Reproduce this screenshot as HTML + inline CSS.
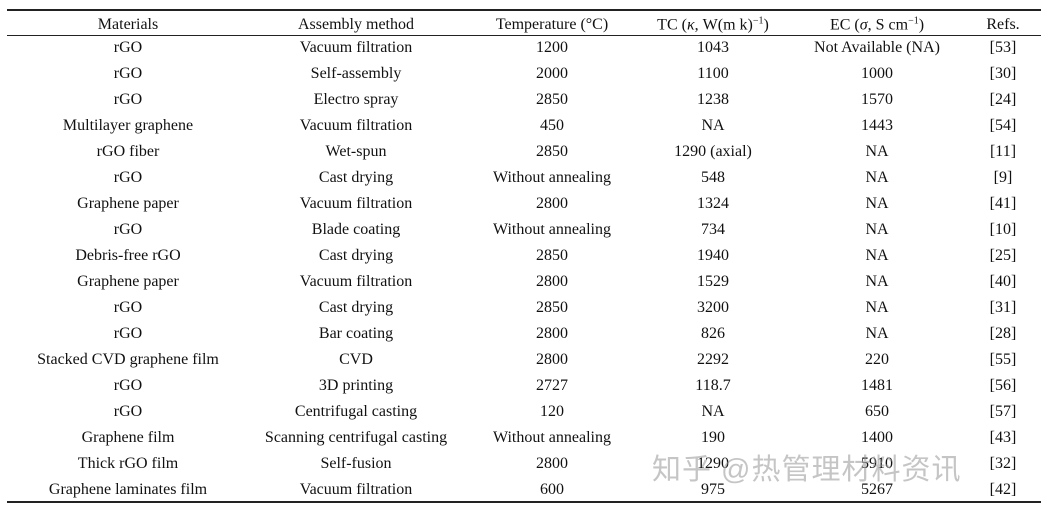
<!DOCTYPE html>
<html><head><meta charset="utf-8"><style>
body{margin:0;width:1049px;height:508px;background:#fff;overflow:hidden;position:relative;font-family:"Liberation Serif",serif;color:#111;}
.line{position:absolute;left:7px;width:1034px;background:#222;}
.c{position:absolute;transform:translate(-50%,-50%);font-size:16px;white-space:nowrap;}
.wm{position:absolute;left:652px;top:446px;font-family:"Liberation Sans","Noto Sans CJK SC",sans-serif;font-size:29px;color:rgba(150,150,150,0.55);letter-spacing:1px;white-space:nowrap;}
</style></head><body>
<div class="line" style="top:9px;height:2px"></div>
<div class="line" style="top:35px;height:1px"></div>
<div class="line" style="top:501px;height:2px"></div>
<div id="t"></div>
<div class="wm">知乎 @热管理材料资讯</div>
<script>
const xs=[128,356,552,713,877,1003];
const header=["Materials","Assembly method","Temperature (°C)","TC (<i>κ</i>, W(m k)<sup style='font-size:10px'>−1</sup>)","EC (<i>σ</i>, S cm<sup style='font-size:10px'>−1</sup>)","Refs."];
const rows=[
["rGO","Vacuum filtration","1200","1043","Not Available (NA)","[53]"],
["rGO","Self-assembly","2000","1100","1000","[30]"],
["rGO","Electro spray","2850","1238","1570","[24]"],
["Multilayer graphene","Vacuum filtration","450","NA","1443","[54]"],
["rGO fiber","Wet-spun","2850","1290 (axial)","NA","[11]"],
["rGO","Cast drying","Without annealing","548","NA","[9]"],
["Graphene paper","Vacuum filtration","2800","1324","NA","[41]"],
["rGO","Blade coating","Without annealing","734","NA","[10]"],
["Debris-free rGO","Cast drying","2850","1940","NA","[25]"],
["Graphene paper","Vacuum filtration","2800","1529","NA","[40]"],
["rGO","Cast drying","2850","3200","NA","[31]"],
["rGO","Bar coating","2800","826","NA","[28]"],
["Stacked CVD graphene film","CVD","2800","2292","220","[55]"],
["rGO","3D printing","2727","118.7","1481","[56]"],
["rGO","Centrifugal casting","120","NA","650","[57]"],
["Graphene film","Scanning centrifugal casting","Without annealing","190","1400","[43]"],
["Thick rGO film","Self-fusion","2800","1290","5910","[32]"],
["Graphene laminates film","Vacuum filtration","600","975","5267","[42]"]];
const t=document.getElementById('t');
function cell(html,x,y,name){const d=document.createElement('div');d.className='c';d.innerHTML=html;d.style.left=x+'px';d.style.top=y+'px';


t.appendChild(d);}
header.forEach((h,i)=>cell(h,xs[i],25,'header-cell'));
rows.forEach((r,j)=>r.forEach((v,i)=>cell(v,xs[i],48+j*26,'table-cell')));
</script>
</body></html>
